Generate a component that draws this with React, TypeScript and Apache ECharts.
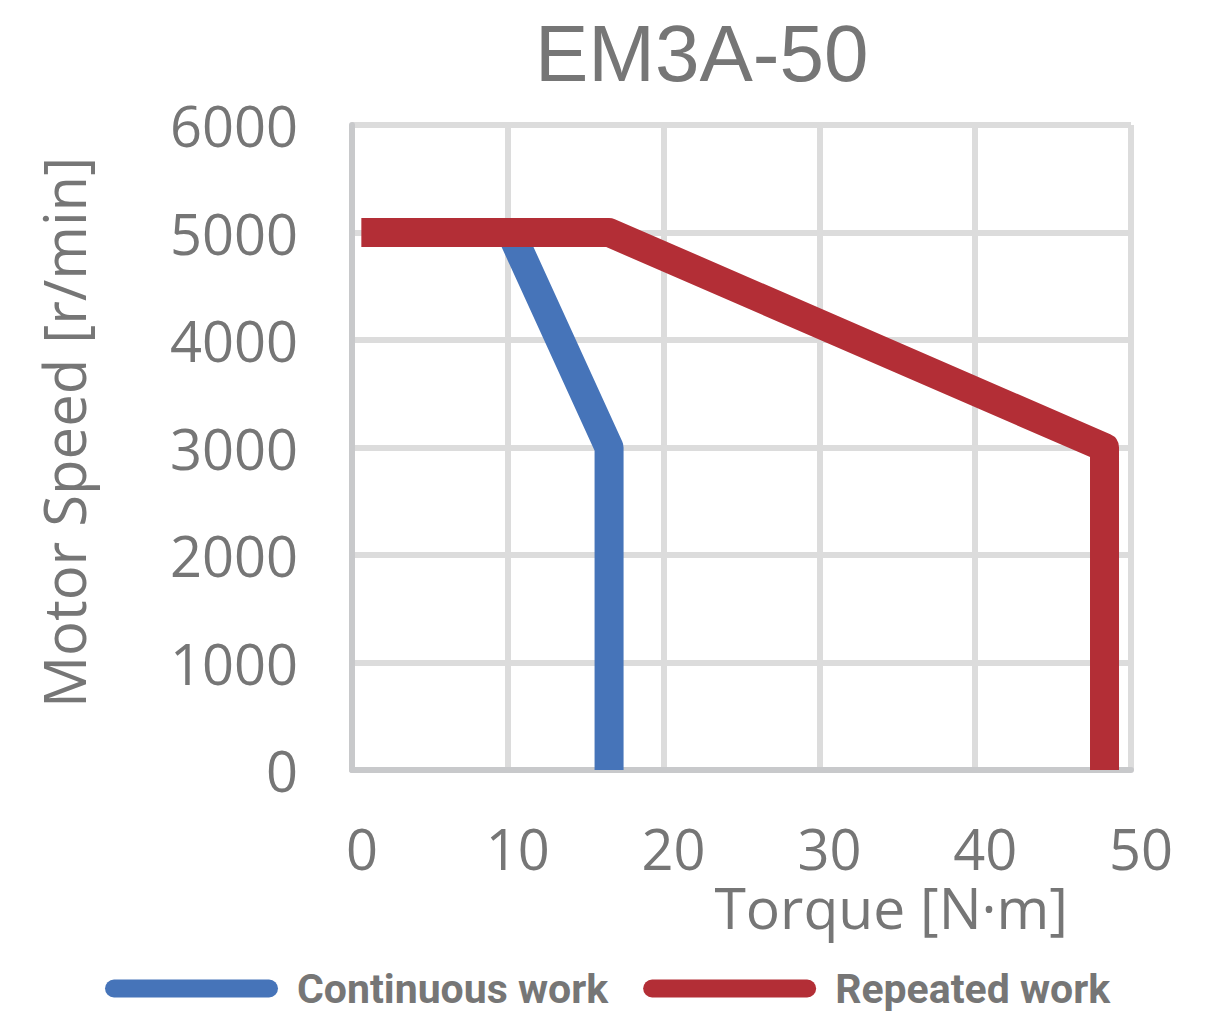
import React, { useEffect, useRef } from "react";
import * as echarts from "echarts";

const titleText = "EM3A-50";
const xAxisName = "Torque [N·m]";
const yAxisName = "Motor Speed [r/min]";
const seriesNames = ["Continuous work", "Repeated work"];
const continuousWork: [number, number][] = [
  [10.2, 5000],
  [16.5, 3000],
  [16.5, 0],
];
const repeatedWork: [number, number][] = [
  [0.6, 5000],
  [16.5, 5000],
  [48.3, 3000],
  [48.3, 0],
];
const xMin = 0, xMax = 50, xInterval = 10;
const yMin = 0, yMax = 6000, yInterval = 1000;

const GRAY = "#767676";
const BLUE = "#4674b9";
const RED = "#b32e36";
const pill = "path://M9,0 H164 A9,9 0 0 1 164,18 H9 A9,9 0 0 1 9,0 Z";

export default function App() {
  const ref = useRef<HTMLDivElement>(null);
  useEffect(() => {
    document.body.style.margin = "0";
    const chart = echarts.init(ref.current!, null, { renderer: "svg" });
    chart.setOption({
      animation: false,
      backgroundColor: "#ffffff",
      title: {
        text: titleText,
        left: 530,
        top: 8,
        textStyle: {
          fontFamily: "Liberation Sans, Arial, sans-serif",
          fontSize: 80,
          fontWeight: "normal",
          color: GRAY,
        },
      },
      legend: {
        left: 100,
        top: 963,
        itemWidth: 173,
        itemHeight: 18,
        itemGap: 35,
        icon: pill,
        textStyle: {
          fontFamily: "Roboto, Liberation Sans, sans-serif",
          fontWeight: "bold",
          fontSize: 41,
          color: GRAY,
          padding: [0, 0, 0, 14],
        },
        data: seriesNames,
      },
      grid: {
        left: 352,
        top: 125,
        width: 779,
        bottom: 263,
        containLabel: false,
        outerBoundsMode: "none",
      },
      xAxis: {
        type: "value",
        min: xMin,
        max: xMax,
        interval: xInterval,
        name: xAxisName,
        nameLocation: "end",
        nameGap: -63,
        nameTextStyle: {
          fontFamily: "Open Sans, sans-serif",
          fontSize: 57,
          color: GRAY,
          align: "right",
          verticalAlign: "top",
          padding: [108, 0, 0, 0],
        },
        axisLine: { show: true, lineStyle: { color: "#c8c9cb", width: 6 } },
        axisTick: { show: false },
        axisLabel: {
          fontFamily: "Open Sans, sans-serif",
          fontSize: 56,
          color: GRAY,
          margin: 50,
          padding: [0, 0, 0, 20],
          formatter: (v: number) => String(v),
        },
        splitLine: { show: true, lineStyle: { color: "#dcdcdc", width: 6 } },
      },
      yAxis: {
        type: "value",
        min: yMin,
        max: yMax,
        interval: yInterval,
        name: yAxisName,
        nameLocation: "middle",
        nameGap: 260,
        nameTextStyle: {
          fontFamily: "Open Sans, sans-serif",
          fontSize: 58,
          color: GRAY,
          padding: [0, 0, 0, 30],
        },
        axisLine: { show: true, lineStyle: { color: "#c8c9cb", width: 6 } },
        axisTick: { show: false },
        axisLabel: {
          fontFamily: "Open Sans, sans-serif",
          fontSize: 56,
          color: GRAY,
          margin: 54,
          padding: [0, 0, 16, 0],
          formatter: (v: number) => String(v),
        },
        splitLine: { show: true, lineStyle: { color: "#dcdcdc", width: 6 } },
      },
      series: [
        {
          name: seriesNames[0],
          type: "line",
          data: continuousWork,
          symbol: "none",
          clip: false,
          itemStyle: { color: BLUE },
          lineStyle: { color: BLUE, width: 29, join: "round", cap: "butt" },
          z: 3,
        },
        {
          name: seriesNames[1],
          type: "line",
          data: repeatedWork,
          symbol: "none",
          clip: false,
          itemStyle: { color: RED },
          lineStyle: { color: RED, width: 29, join: "round", cap: "butt" },
          z: 4,
        },
      ],
    });
    return () => chart.dispose();
  }, []);
  return <div ref={ref} style={{ width: 1219, height: 1033 }} />;
}
